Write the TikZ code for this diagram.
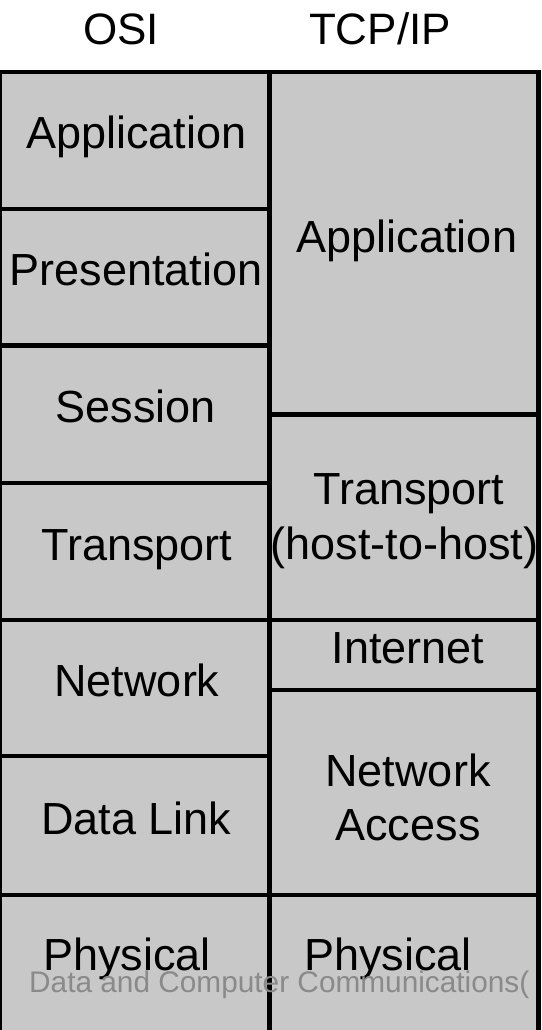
\documentclass[tikz,border=0pt]{standalone}
\usepackage{fontspec}
\setmainfont{Liberation Sans}
\usepackage{tikz}

\definecolor{cellgray}{gray}{0.785}
\definecolor{markgray}{gray}{0.54}
\tikzset{
  layer/.style={draw=black, line width=4.5pt, fill=cellgray},
  lbl/.style={anchor=base, inner sep=0pt, font=\fontsize{45}{54}\selectfont},
  head/.style={anchor=base, inner sep=0pt, font=\fontsize{44}{53}\selectfont},
  wmark/.style={anchor=base west, inner sep=0pt, text=markgray, font=\fontsize{29.8}{35}\selectfont}
}

\begin{document}
\begin{tikzpicture}[x=1pt,y=-1pt]
\useasboundingbox (0,0) rectangle (541,1030);
% OSI column
\draw[layer] (-0.5,72) rectangle (269.5,209);
\draw[layer] (-0.5,209) rectangle (269.5,345.5);
\draw[layer] (-0.5,345.5) rectangle (269.5,483);
\draw[layer] (-0.5,483) rectangle (269.5,620);
\draw[layer] (-0.5,620) rectangle (269.5,756);
\draw[layer] (-0.5,756) rectangle (269.5,895);
\draw[layer] (-0.5,895) rectangle (269.5,1034);
% TCP/IP column
\draw[layer] (269.5,72) rectangle (538.5,414.5);
\draw[layer] (269.5,414.5) rectangle (538.5,620);
\draw[layer] (269.5,620) rectangle (538.5,690);
\draw[layer] (269.5,690) rectangle (538.5,895);
\draw[layer] (269.5,895) rectangle (538.5,1034);
% headings
\node[head] (osi) at (121,45) {OSI};
\node[head] (tcpip) at (380,45) {TCP/IP};
% OSI layers
\node[lbl] (oapp) at (136.5,149) {Application};
\node[lbl] (opres) at (136,285.5) {Presentation};
\node[lbl] (osess) at (136,422.5) {Session};
\node[lbl] (otrans) at (137,560) {Transport};
\node[lbl] (onet) at (137,696.5) {Network};
\node[lbl] (olink) at (136.5,834) {Data Link};
\node[lbl] (ophys) at (127,970) {Physical};
% TCP/IP layers
\node[lbl] (tapp) at (407,252) {Application};
\node[lbl] (ttrans) at (409,504) {Transport};
\node[lbl] (thost) at (404.5,559) {(host-to-host)};
\node[lbl] (tinet) at (408,663) {Internet};
\node[lbl] (tnet) at (408,786) {Network};
\node[lbl] (tacc) at (408,840) {Access};
\node[lbl] (tphys) at (388,970) {Physical};
% watermark
\node[wmark] (wm) at (29,992) {Data and Computer Communications(};
\end{tikzpicture}
\end{document}
